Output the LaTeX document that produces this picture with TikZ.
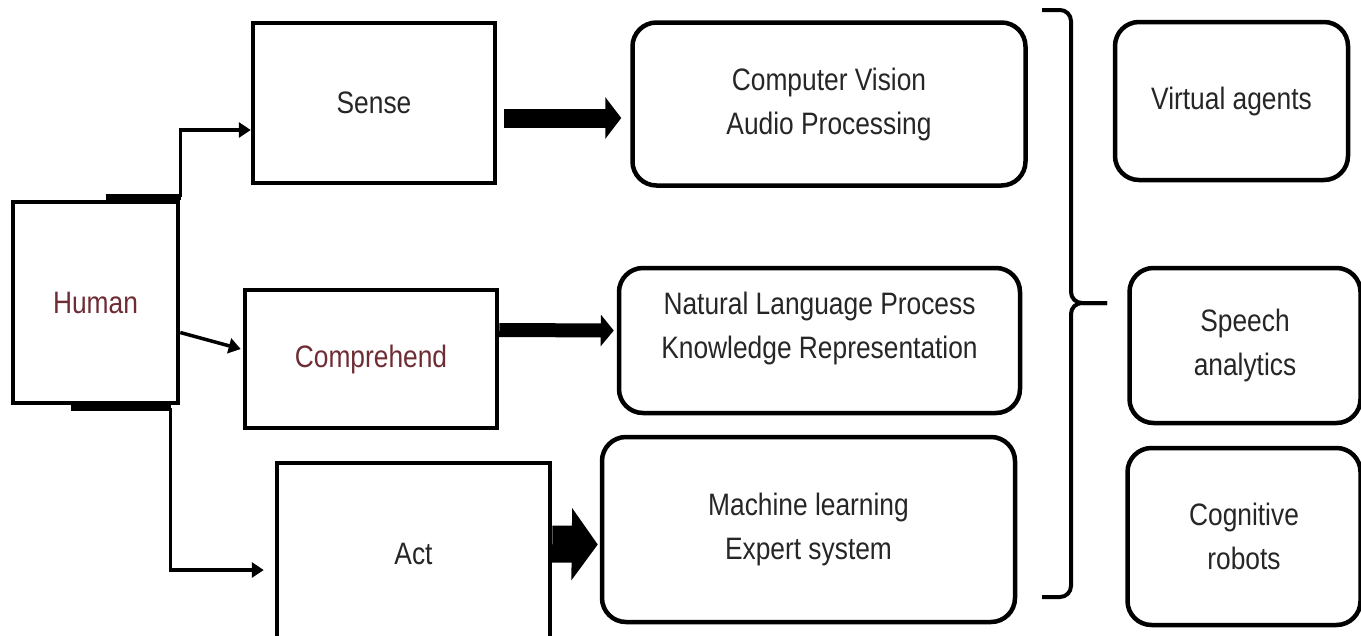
\documentclass[tikz,border=0pt]{standalone}
\usepackage{fontspec}
\setmainfont{Liberation Sans}[FakeStretch=0.85]
\usetikzlibrary{arrows.meta, calc}
\definecolor{inkred}{RGB}{110,45,52}
\definecolor{inkgray}{RGB}{38,38,38}

\begin{document}
\begin{tikzpicture}[x=1pt, y=-1pt,
  stage/.style={draw, line width=4.5pt, align=center, inner sep=0pt,
    text=inkgray, font=\fontsize{31}{44}\selectfont},
  tech/.style={stage, rounded corners=24pt},
  conn/.style={line width=3.5pt, -{Triangle[length=12pt,width=15pt]}},
  stub/.style={line width=6pt},
  brace/.style={line width=4pt, rounded corners=11pt}]
\useasboundingbox (0,0) rectangle (1361,635);
% Draw the human and the three abilities
\node [stage, text=inkred, minimum width=165, minimum height=201] (human) at (95.5,302.5) {Human};
\node [stage, minimum width=242, minimum height=160] (sense) at (374,103) {Sense};
\node [stage, text=inkred, minimum width=252, minimum height=138] (comp) at (371,359) {Comprehend};
\node [stage, minimum width=273, minimum height=182] (act) at (413.5,554) {Act};
% Draw the technologies
\node [tech, minimum width=393, minimum height=163] (cv) at (829,104) {Computer Vision\\Audio Processing};
\node [tech, minimum width=401, minimum height=145] (nlp) at (819.5,340.5) {};
\node [text=inkgray, font=\fontsize{31}{44}\selectfont, align=center] (nlptext) at (819.5,328) {Natural Language Process\\Knowledge Representation};
\node [tech, minimum width=413, minimum height=185] (ml) at (808.5,529.5) {Machine learning\\Expert system};
% Draw the applications
\node [tech, minimum width=233, minimum height=158] (va) at (1231.5,101) {Virtual agents};
\node [tech, minimum width=231, minimum height=155] (sa) at (1245,345.5) {Speech\\analytics};
\node [tech, minimum width=233, minimum height=177] (cr) at (1244,536.5) {Cognitive\\robots};
% Connect human to sense
\coordinate (h1) at ($(human.north)+(10,-3)$);
\coordinate (h2) at ($(human.north)+(85,-3)$);
\draw [stub] (h1) -- (h2);
\draw [conn] (h2) |- ($(sense.west)+(0,27)$);
% Connect human to comprehend
\draw [conn] ($(human.east)+(0,30)$) -- ($(comp.west)+(-2,-10)$);
% Connect human to act
\coordinate (h3) at ($(human.south)+(-25,3)$);
\coordinate (h4) at ($(human.south)+(75,3)$);
\draw [stub] (h3) -- (h4);
\draw [conn] (h4) |- ($(act.west)+(-11,16)$);
% Block arrows to the technologies
\draw [line width=19pt, -{Triangle[length=16pt,width=41pt]}] ($(sense.east)+(7,15)$) -- ($(cv.west)+(-9,14)$);
\draw [line width=14pt, -{Triangle[length=13pt,width=31pt]}] ($(comp.east)+(0,-29)$) -- ($(nlp.west)+(-3,-10)$);
\draw [line width=37pt, -{Triangle[length=26pt,width=71pt]}] ($(act.east)+(0,-10)$) -- ($(ml.west)+(-2,15)$);
% Draw the bracket
\coordinate (btop) at (1042,10);
\coordinate (bbot) at (1042,597);
\coordinate (bmid) at (1071,303);
\coordinate (btip) at (1107,303);
\draw [brace] (btop) -| (bmid) -- (btip);
\draw [brace] (bbot) -| (bmid) -- (btip);
\end{tikzpicture}
\end{document}
